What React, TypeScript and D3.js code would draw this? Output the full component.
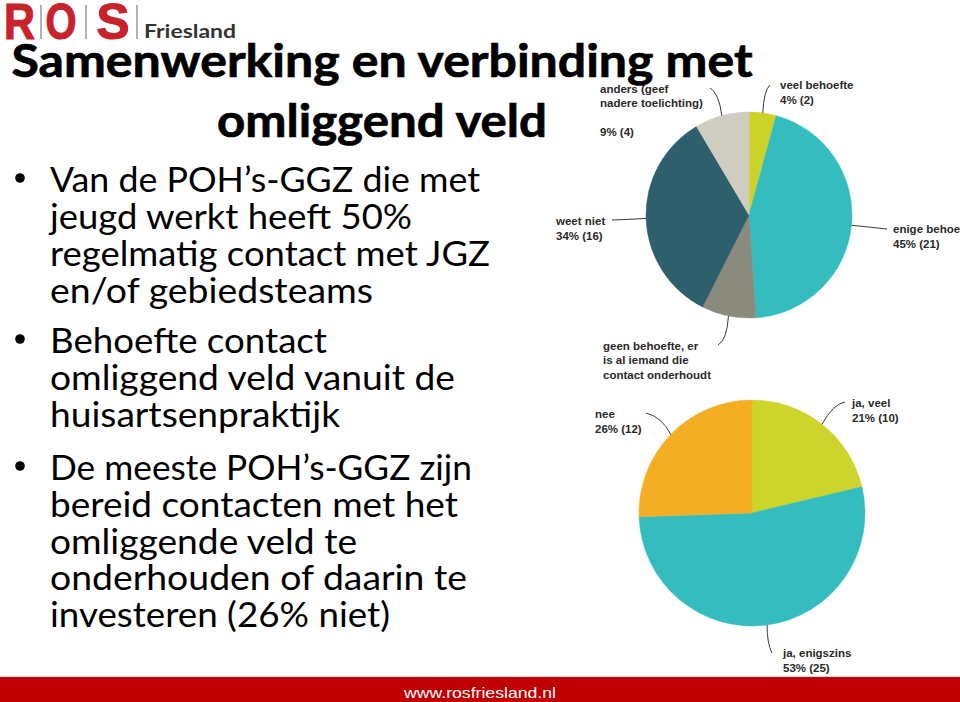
import React from "react";
import * as d3 from "d3";

// ---------- data ----------
const pie1Labels = [
  ["veel behoefte", "4% (2)"],
  ["enige behoefte", "45% (21)"],
  ["geen behoefte, er", "is al iemand die", "contact onderhoudt"],
  ["weet niet", "34% (16)"],
  ["anders (geef", "nadere toelichting)", "", "9% (4)"],
];
const pie1Values = [2, 21, 4, 16, 4];
const pie1Colors = ["#cbd32b", "#35bcbf", "#8a8b7d", "#2e5f6d", "#cfcdc1"];

const pie2Labels = [
  ["ja, veel", "21% (10)"],
  ["ja, enigszins", "53% (25)"],
  ["nee", "26% (12)"],
];
const pie2Values = [10, 25, 12];
const pie2Colors = ["#cdd42c", "#35bcbf", "#f4ae23"];

const titleLines = ["Samenwerking en verbinding met", "omliggend veld"];
const bullets = [
  ["Van de POH\u2019s-GGZ die met", "jeugd werkt heeft 50%", "regelmatig contact met JGZ", "en/of gebiedsteams"],
  ["Behoefte contact", "omliggend veld vanuit de", "huisartsenpraktijk"],
  ["De meeste POH\u2019s-GGZ zijn", "bereid contacten met het", "omliggende veld te", "onderhouden of daarin te", "investeren (26% niet)"],
];
const footerText = "www.rosfriesland.nl";

// ---------- layout ----------
const bulletBaselines = [
  [192, 229, 266, 302.5],
  [353, 390, 427],
  [480, 517, 553.5, 590, 627],
];
const bulletWidths = [
  [430, 362, 440, 323],
  [277, 405, 290],
  [422, 408, 307, 417, 340],
];
// label layout relative to pie centre: [labelX, firstBaseline, ctrlX, ctrlY, endX, endY]
const pie1Layout = [
  [31, -126, 15, -125, 21, -130],
  [144, 18, 120, 12, 138, 14],
  [-146, 134.5, -22, 125, -31, 130],
  [-193, 10, -120, 4.5, -137, 5],
  [-149, -122.5, -30, -122, -39, -127],
];
const pie2Layout = [
  [100, -106, 81, -109, 93, -111],
  [31, 144, 15, 130, 20, 140],
  [-157, -95, -90, -96, -106, -100],
];

const FONT_BODY = "Lato, 'Open Sans', sans-serif";
const FONT_LABEL = "'Liberation Sans', Arial, sans-serif";

function Pie({ cx, cy, r, values, colors, labels, layout }) {
  const arcs = d3.pie<number>().sort(null).value((d) => d)(values);
  const arcGen = d3.arc<any>().innerRadius(0).outerRadius(r);
  return (
    <g transform={`translate(${cx},${cy})`}>
      {arcs.map((a, i) => (
        <path key={i} d={arcGen(a) || ""} fill={colors[i]} stroke={colors[i]} strokeWidth={0.5} />
      ))}
      {arcs.map((a, i) => {
        const mid = (a.startAngle + a.endAngle) / 2;
        const sx = r * Math.sin(mid);
        const sy = -r * Math.cos(mid);
        const [lx, ly, qx, qy, ex, ey] = layout[i];
        const p = d3.path();
        p.moveTo(sx, sy);
        p.quadraticCurveTo(qx, qy, ex, ey);
        return (
          <g key={"l" + i}>
            <path d={p.toString()} fill="none" stroke="#3a3a3a" strokeWidth={1} />
            <text x={lx} y={ly} fontFamily={FONT_LABEL} fontWeight="bold" fontSize={11.5} fill="#2a2a2a">
              {labels[i].map((t, j) => (
                <tspan key={j} x={lx} y={ly + j * 14.5}>{t}</tspan>
              ))}
            </text>
          </g>
        );
      })}
    </g>
  );
}

export default function App() {
  return (
    <svg width={960} height={702} style={{ position: "absolute", left: 0, top: 0, background: "#fff" }}>
      <rect x={0} y={0} width={960} height={702} fill="#ffffff" />
      {/* logo */}
      <g fontFamily={FONT_LABEL} fontWeight="bold" fill="#c8232c" stroke="#c8232c" strokeWidth={1.2} fontSize={50}>
        <text x={19.5} y={39} textAnchor="middle" textLength={31} lengthAdjust="spacingAndGlyphs">R</text>
        <text x={61} y={39} textAnchor="middle" textLength={31} lengthAdjust="spacingAndGlyphs">O</text>
        <text x={113} y={39} textAnchor="middle" textLength={33} lengthAdjust="spacingAndGlyphs">S</text>
      </g>
      <g stroke="#9a9a9a" strokeWidth={1.5}>
        <line x1={41} y1={5} x2={41} y2={39} />
        <line x1={86} y1={5} x2={86} y2={39} />
        <line x1={137} y1={5} x2={137} y2={39} />
      </g>
      <text x={144} y={38} fontFamily={FONT_BODY} fontWeight="bold" fontSize={18.5} fill="#333" textLength={92} lengthAdjust="spacingAndGlyphs">Friesland</text>

      {/* charts */}
      <Pie cx={749} cy={215} r={103} values={pie1Values} colors={pie1Colors} labels={pie1Labels} layout={pie1Layout} />
      <Pie cx={752} cy={513} r={113} values={pie2Values} colors={pie2Colors} labels={pie2Labels} layout={pie2Layout} />

      {/* title */}
      <g fontFamily={FONT_BODY} fontWeight="bold" fontSize={45} fill="#000" stroke="#000" strokeWidth={0.7} textAnchor="middle">
        <text x={382} y={77} textLength={741} lengthAdjust="spacingAndGlyphs">{titleLines[0]}</text>
        <text x={382} y={137} textLength={330} lengthAdjust="spacingAndGlyphs">{titleLines[1]}</text>
      </g>

      {/* bullets */}
      <g fontFamily={FONT_BODY} fontSize={35} fill="#000">
        {bullets.map((lines, bi) => (
          <g key={bi}>
            <circle cx={20} cy={bulletBaselines[bi][0] - 14} r={4.8} fill="#000" />
            {lines.map((t, li) => (
              <text key={li} x={50} y={bulletBaselines[bi][li]} textLength={bulletWidths[bi][li]} lengthAdjust="spacingAndGlyphs">{t}</text>
            ))}
          </g>
        ))}
      </g>

      {/* footer */}
      <line x1={0} y1={676.5} x2={960} y2={676.5} stroke="#d9d9d9" strokeWidth={1} />
      <rect x={0} y={677} width={960} height={25} fill="#c00000" />
      <text x={480} y={698} textAnchor="middle" fontFamily={FONT_LABEL} fontSize={15} fill="#fff" textLength={152} lengthAdjust="spacingAndGlyphs">{footerText}</text>
    </svg>
  );
}
